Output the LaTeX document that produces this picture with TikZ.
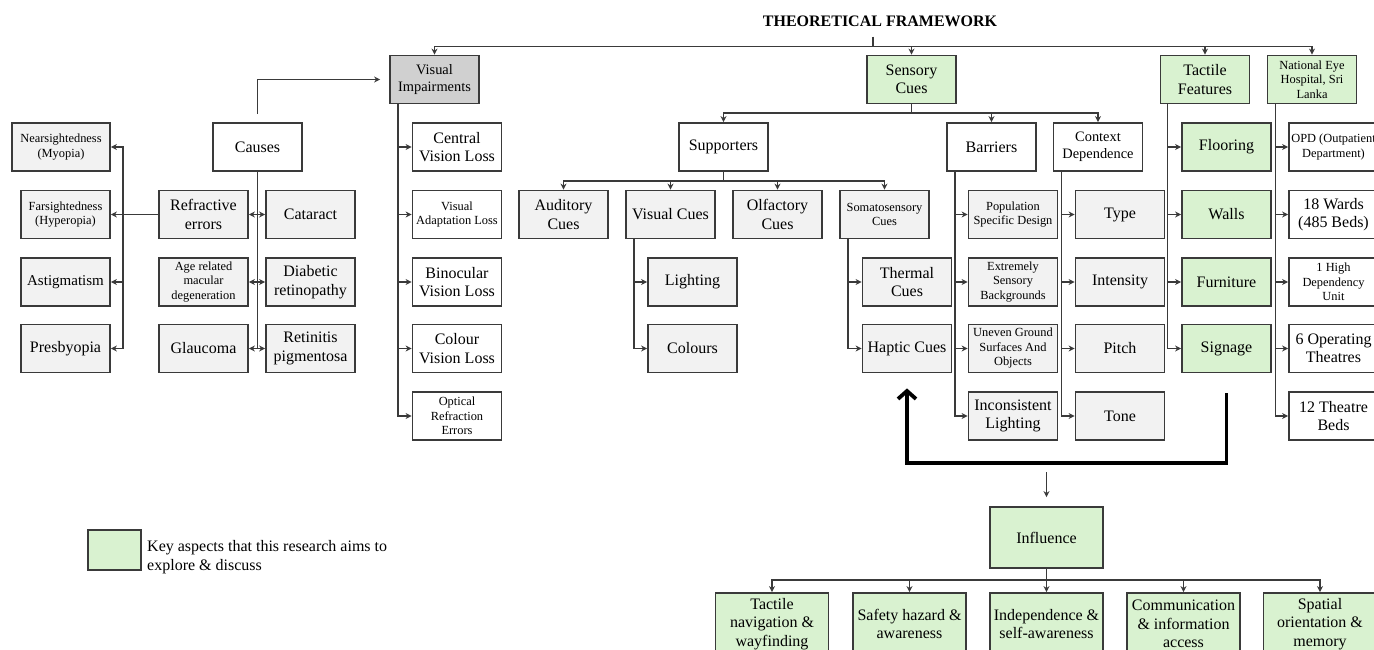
\documentclass[tikz,border=0pt]{standalone}
\usepackage{fontspec}
\setmainfont{Liberation Serif}
\usetikzlibrary{arrows.meta}

\definecolor{keygreen}{HTML}{D9F2D0}
\definecolor{lightgrey}{HTML}{F2F2F2}
\definecolor{darkgrey}{HTML}{D0D0D0}
\definecolor{edge}{HTML}{3A3A3A}

\newcommand{\bigtxt}{\fontsize{16}{18.5}\selectfont}
\newcommand{\midtxt}{\fontsize{14.4}{16.5}\selectfont}
\newcommand{\smalltxt}{\fontsize{12.4}{14.5}\selectfont}

\begin{document}
\begin{tikzpicture}[x=1pt,y=-1pt,
  box/.style={draw=edge, line width=1.8pt, minimum width=89pt, minimum height=48pt,
    inner sep=1pt, align=center, font=\bigtxt},
  whitebox/.style={box, fill=white},
  greybox/.style={box, fill=lightgrey},
  darkbox/.style={box, fill=darkgrey},
  greenbox/.style={box, fill=keygreen},
  link/.style={draw=edge, line width=1.6pt},
  arr/.style={link, -{Stealth[length=6pt,width=6pt]}},
  twoway/.style={link, {Stealth[length=6pt,width=6pt]}-{Stealth[length=6pt,width=6pt]}},
  loop/.style={line width=3.8pt, -{Straight Barb[length=8pt,width=18pt]}}
  ]
      \useasboundingbox (0,0) rectangle (1374,650);

      % TITLE
      \node[font=\bigtxt\bfseries, inner ysep=10pt] (title) at (880,21) {THEORETICAL FRAMEWORK};
      \coordinate (top) at (873,46.5);

      % TOP LEVEL
      \node[darkbox, font=\midtxt] (vi) at (434.5,79.5) {Visual\\Impairments};
      \node[greenbox] (sens) at (911.5,79.5) {Sensory\\Cues};
      \node[greenbox] (tact) at (1205,79.5) {Tactile\\Features};
      \node[greenbox, font=\smalltxt] (neh) at (1312,79.5) {National Eye\\Hospital, Sri\\Lanka};

      % CAUSES
      \node[whitebox] (causes) at (257.5,147) {Causes};
      \node[greybox] (refr) at (203.5,214.5) {Refractive\\errors};
      \node[greybox] (cat) at (310.5,214.5) {Cataract};
      \node[greybox, font=\smalltxt] (amd) at (203.5,282) {Age related\\macular\\degeneration};
      \node[greybox] (diab) at (310.5,282) {Diabetic\\retinopathy};
      \node[greybox] (glau) at (203.5,348.5) {Glaucoma};
      \node[greybox] (retin) at (310.5,348.5) {Retinitis\\pigmentosa};
      \coordinate (cbot) at (257.5,348.5);

      \node[greybox, font=\smalltxt, minimum width=98pt] (near) at (61,147) {Nearsightedness\\(Myopia)};
      \node[greybox, font=\smalltxt] (far) at (65.5,214.5) {Farsightedness\\(Hyperopia)};
      \node[greybox, font=\fontsize{15}{17}\selectfont] (astig) at (65.5,282) {Astigmatism};
      \node[greybox] (presby) at (65.5,348.5) {Presbyopia};
      \coordinate (lbus) at (123,214.5);

      % VISUAL IMPAIRMENTS
      \node[whitebox] (cvl) at (457,147) {Central\\Vision Loss};
      \node[whitebox, font=\smalltxt] (val) at (457,214.5) {Visual\\Adaptation Loss};
      \node[whitebox] (bvl) at (457,282) {Binocular\\Vision Loss};
      \node[whitebox] (colvl) at (457,348.5) {Colour\\Vision Loss};
      \node[whitebox, font=\smalltxt] (ore) at (457,416) {Optical\\Refraction\\Errors};

      % SENSORY CUES
      \coordinate (sbus) at (911.5,113);
      \node[whitebox] (supp) at (723.5,147) {Supporters};
      \node[whitebox] (barr) at (991.5,147) {Barriers};
      \node[whitebox, font=\midtxt] (ctx) at (1098,147) {Context\\Dependence};

      \coordinate (pbus) at (723.5,181);
      \node[greybox] (aud) at (563.5,214.5) {Auditory\\Cues};
      \node[greybox] (viscue) at (670.5,214.5) {Visual Cues};
      \node[greybox] (olf) at (777.5,214.5) {Olfactory\\Cues};
      \node[greybox, font=\smalltxt] (soma) at (884.5,214.5) {Somatosensory\\Cues};
      \node[greybox] (light) at (692.5,282) {Lighting};
      \node[greybox] (colours) at (692.5,348.5) {Colours};
      \node[greybox] (therm) at (907,282) {Thermal\\Cues};
      \node[greybox] (haptic) at (907,348.5) {Haptic Cues};

      \node[greybox, font=\smalltxt] (pop) at (1013,214.5) {Population\\Specific Design};
      \node[greybox, font=\smalltxt] (ext) at (1013,282) {Extremely\\Sensory\\Backgrounds};
      \node[greybox, font=\smalltxt] (unev) at (1013,348.5) {Uneven Ground\\Surfaces And\\Objects};
      \node[greybox] (incon) at (1013,416) {Inconsistent\\Lighting};

      \node[greybox] (type) at (1120,214.5) {Type};
      \node[greybox] (inten) at (1120,282) {Intensity};
      \node[greybox] (pitch) at (1120,348.5) {Pitch};
      \node[greybox] (tone) at (1120,416) {Tone};

      % TACTILE FEATURES
      \node[greenbox] (floor) at (1226.5,147) {Flooring};
      \node[greenbox] (walls) at (1226.5,214.5) {Walls};
      \node[greenbox] (furn) at (1226.5,282) {Furniture};
      \node[greenbox] (sign) at (1226.5,348.5) {Signage};

      % HOSPITAL
      \node[whitebox, font=\smalltxt] (opd) at (1333.5,147) {OPD (Outpatient\\Department)};
      \node[whitebox] (wards) at (1333.5,214.5) {18 Wards\\(485 Beds)};
      \node[whitebox, font=\smalltxt] (hdu) at (1333.5,282) {1 High\\Dependency\\Unit};
      \node[whitebox] (ot) at (1333.5,348.5) {6 Operating\\Theatres};
      \node[whitebox] (tb) at (1333.5,416) {12 Theatre\\Beds};

      % INFLUENCE
      \coordinate (loopmid) at (1046.5,463);
      \node[greenbox, minimum width=113pt, minimum height=61pt] (infl) at (1046.5,537.5) {Influence};
      \coordinate (ibus) at (1046.5,580);
      \node[greenbox, minimum width=113pt, minimum height=62pt] (tnav) at (772,624) {Tactile\\navigation \&\\wayfinding};
      \node[greenbox, minimum width=113pt, minimum height=62pt] (safety) at (909.5,624) {Safety hazard \&\\awareness};
      \node[greenbox, minimum width=113pt, minimum height=62pt] (indep) at (1046.5,624) {Independence \&\\self-awareness};
      \node[greenbox, minimum width=113pt, minimum height=62pt] (comm) at (1183.5,624) {Communication\\\& information\\access};
      \node[greenbox, minimum width=113pt, minimum height=62pt] (spatial) at (1320,624) {Spatial\\orientation \&\\memory};

      % NOTES
      \node[greenbox, minimum width=53pt, minimum height=40pt] (legend) at (114.5,550) {};
      \node[anchor=west, align=left, font=\bigtxt, inner sep=0pt] (legendtxt) at (147,557)
        {Key aspects that this research aims to\\explore \& discuss};

      % ARROWS

      \draw[link] (title.south -| top) -- (top);
      \draw[arr] (top) -| (vi.north);
      \draw[arr] (top) -| (sens.north);
      \draw[arr] (top) -| (tact.north);
      \draw[arr] (top) -| (neh.north);

      \draw[arr, shorten <=8pt, shorten >=9pt] (causes.north) |- (vi.west);
      \draw[link] (causes.south) -- (cbot);
      \draw[twoway] (refr.east) -- (cat.west);
      \draw[twoway] (amd.east) -- (diab.west);
      \draw[twoway] (glau.east) -- (retin.west);

      \draw[arr] (refr.west) -- (far.east);
      \draw[arr] (lbus) |- (near.east);
      \draw[arr] (lbus) |- (astig.east);
      \draw[arr] (lbus) |- (presby.east);

      \draw[arr] ([xshift=9pt]vi.south west) |- (cvl.west);
      \draw[arr] ([xshift=9pt]vi.south west) |- (val.west);
      \draw[arr] ([xshift=9pt]vi.south west) |- (bvl.west);
      \draw[arr] ([xshift=9pt]vi.south west) |- (colvl.west);
      \draw[arr] ([xshift=9pt]vi.south west) |- (ore.west);

      \draw[link] (sens.south) -- (sbus);
      \draw[arr] (sbus) -| (supp.north);
      \draw[arr] (sbus) -| (barr.north);
      \draw[arr] (sbus) -| (ctx.north);

      \draw[link] (supp.south) -- (pbus);
      \draw[arr] (pbus) -| (aud.north);
      \draw[arr] (pbus) -| (viscue.north);
      \draw[arr] (pbus) -| (olf.north);
      \draw[arr] (pbus) -| (soma.north);

      \draw[arr] ([xshift=9pt]viscue.south west) |- (light.west);
      \draw[arr] ([xshift=9pt]viscue.south west) |- (colours.west);
      \draw[arr] ([xshift=9pt]soma.south west) |- (therm.west);
      \draw[arr] ([xshift=9pt]soma.south west) |- (haptic.west);

      \draw[arr] ([xshift=9pt]barr.south west) |- (pop.west);
      \draw[arr] ([xshift=9pt]barr.south west) |- (ext.west);
      \draw[arr] ([xshift=9pt]barr.south west) |- (unev.west);
      \draw[arr] ([xshift=9pt]barr.south west) |- (incon.west);

      \draw[arr] ([xshift=9pt]ctx.south west) |- (type.west);
      \draw[arr] ([xshift=9pt]ctx.south west) |- (inten.west);
      \draw[arr] ([xshift=9pt]ctx.south west) |- (pitch.west);
      \draw[arr] ([xshift=9pt]ctx.south west) |- (tone.west);

      \draw[arr] ([xshift=8pt]tact.south west) |- (floor.west);
      \draw[arr] ([xshift=8pt]tact.south west) |- (walls.west);
      \draw[arr] ([xshift=8pt]tact.south west) |- (furn.west);
      \draw[arr] ([xshift=8pt]tact.south west) |- (sign.west);

      \draw[arr] ([xshift=9pt]neh.south west) |- (opd.west);
      \draw[arr] ([xshift=9pt]neh.south west) |- (wards.west);
      \draw[arr] ([xshift=9pt]neh.south west) |- (hdu.west);
      \draw[arr] ([xshift=9pt]neh.south west) |- (ot.west);
      \draw[arr] ([xshift=9pt]neh.south west) |- (tb.west);

      \draw[loop, shorten <=20pt, shorten >=15pt] (sign.south) |- (loopmid) -| (haptic.south);
      \draw[arr, shorten <=9pt, shorten >=9pt] (loopmid) -- (infl.north);

      \draw[link] (infl.south) -- (ibus);
      \draw[arr] (ibus) -| (tnav.north);
      \draw[arr] (ibus) -| (safety.north);
      \draw[arr] (ibus) -| (indep.north);
      \draw[arr] (ibus) -| (comm.north);
      \draw[arr] (ibus) -| (spatial.north);

\end{tikzpicture}
\end{document}
